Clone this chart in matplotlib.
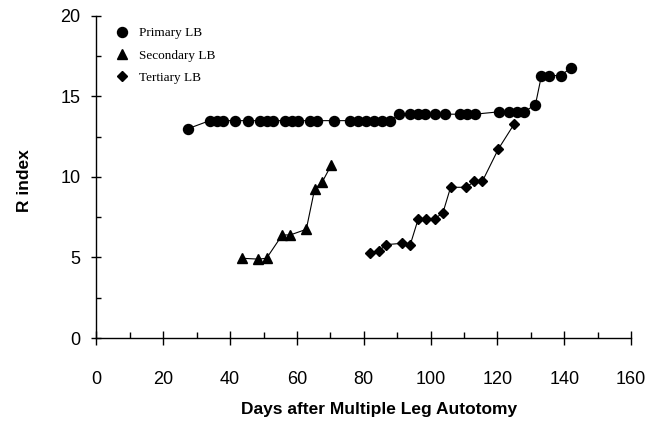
import numpy as np
import matplotlib
matplotlib.use("Agg")
import matplotlib.pyplot as plt
from matplotlib.lines import Line2D

# values
primary_days = [27.4, 33.9, 36.0, 37.8, 41.4, 45.3, 48.9, 51.0, 52.8, 56.4, 58.4, 60.2,
                63.8, 65.9, 71.0, 75.8, 78.2, 80.6, 83.0, 85.6, 88.0,
                90.7, 93.7, 96.1, 98.2, 101.2, 104.2, 108.7, 110.8, 113.2,
                120.6, 123.6, 126.0, 128.1, 131.4, 133.2, 135.6, 138.9, 141.9]
primary_r = [13.0, 13.5, 13.5, 13.5, 13.5, 13.5, 13.5, 13.5, 13.5, 13.5, 13.5, 13.5,
             13.5, 13.5, 13.5, 13.5, 13.5, 13.5, 13.5, 13.5, 13.5,
             13.9, 13.9, 13.9, 13.9, 13.9, 13.9, 13.9, 13.9, 13.9,
             14.05, 14.05, 14.05, 14.05, 14.5, 16.3, 16.3, 16.3, 16.75]

secondary_days = [43.7, 48.4, 50.9, 55.6, 58.0, 62.8, 65.3, 67.6, 70.3]
secondary_r = [4.95, 4.9, 4.95, 6.4, 6.4, 6.75, 9.25, 9.7, 10.75]

tertiary_days = [82.0, 84.6, 86.8, 91.4, 93.9, 96.3, 98.7, 101.2, 103.7, 106.0,
                 110.7, 113.1, 115.5, 120.3, 125.0]
tertiary_r = [5.3, 5.42, 5.8, 5.88, 5.78, 7.39, 7.39, 7.39, 7.78, 9.36,
              9.36, 9.73, 9.73, 11.74, 13.28]

series_labels = ['Primary LB', 'Secondary LB', 'Tertiary LB']

plt.rcParams['font.family'] = ['Liberation Sans', 'DejaVu Sans']

fig = plt.figure(figsize=(6.52, 4.25), dpi=100)
ax = fig.add_axes([0.148, 0.2047, 0.8198, 0.7577])

ax.plot(primary_days, primary_r, color='black', lw=0.8, marker='o', ms=7.2)
ax.plot(secondary_days, secondary_r, color='black', lw=0.8, marker='^', ms=7)
ax.plot(tertiary_days, tertiary_r, color='black', lw=0.8, marker='D', ms=5.5)

ax.set_xlim(0, 160)
ax.set_ylim(0, 20)
ax.spines['top'].set_visible(False)
ax.spines['right'].set_visible(False)
for s in ['left', 'bottom']:
    ax.spines[s].set_linewidth(1.0)

ax.set_xticks(np.arange(0, 161, 20))
ax.set_xticks(np.arange(10, 160, 20), minor=True)
ax.set_yticks(np.arange(0, 21, 5))
ax.set_yticks(np.arange(2.5, 20, 5), minor=True)
ax.tick_params(axis='x', which='major', direction='inout', length=10, width=1.0,
               labelsize=13, pad=19)
ax.tick_params(axis='x', which='minor', direction='in', length=4, width=1.0)
ax.tick_params(axis='y', which='major', direction='inout', length=7, width=1.0,
               labelsize=13, pad=8)
ax.tick_params(axis='y', which='minor', direction='in', length=3.5, width=1.0)

ax.set_xlabel('Days after Multiple Leg Autotomy', fontsize=12.5, fontweight='bold')
ax.xaxis.set_label_coords(0.5285, -0.2)
ax.set_ylabel('R index', fontsize=12.5, fontweight='bold')
ax.yaxis.set_label_coords(-0.12, 0.49)

handles = [Line2D([], [], color='black', marker='o', ms=7.2, ls='none'),
           Line2D([], [], color='black', marker='^', ms=7, ls='none'),
           Line2D([], [], color='black', marker='D', ms=5.5, ls='none')]
ax.legend(handles, series_labels, loc='upper left', bbox_to_anchor=(0.0355, 0.965),
          frameon=False, borderaxespad=0, borderpad=0, handlelength=1,
          handletextpad=0.8, labelspacing=0.75,
          prop={'family': 'Liberation Serif', 'size': 9.5})

fig.savefig('out.png', dpi=100)
